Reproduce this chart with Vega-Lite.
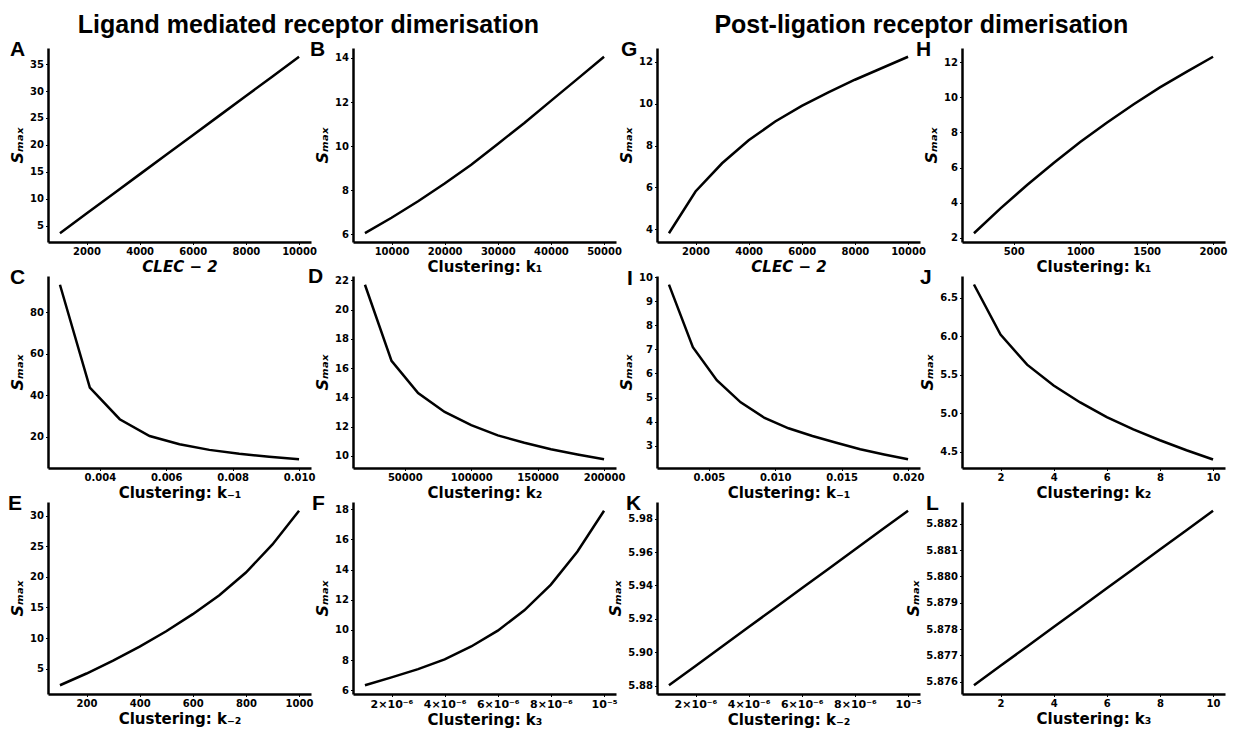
{
"$schema": "https://vega.github.io/schema/vega-lite/v6.json",
"padding": {"left": 8, "top": 13, "right": 5, "bottom": 5},
"background": "white",
"config": {
 "view": {"stroke": null},
 "font": "DejaVu Sans",
 "axis": {"domainColor": "black", "domainWidth": 2.5, "tickColor": "black", "tickWidth": 1, "tickSize": 2.5, "grid": false, "labelFont": "DejaVu Sans", "labelFontWeight": "bold", "labelFontSize": 10, "labelColor": "black", "labelPadding": 2, "titleFont": "DejaVu Sans", "titleFontWeight": "bold", "titleFontSize": 15, "titleColor": "black"},
 "axisY": {"titlePadding": 4, "titleFontStyle": "italic", "titleFontSize": 16},
 "axisX": {"titlePadding": 3},
 "title": {"font": "Liberation Sans", "fontWeight": "bold", "fontSize": 21, "color": "black", "anchor": "start", "frame": "group", "baseline": "alphabetic", "offset": -12},
 "line": {"color": "black", "strokeWidth": 2.5}
},
"datasets": {
 "A": [{"x":1000,"y":3.58},{"x":2000,"y":7.22},{"x":3000,"y":10.86},{"x":4000,"y":14.51},{"x":5000,"y":18.15},{"x":6000,"y":21.79},{"x":7000,"y":25.43},{"x":8000,"y":29.07},{"x":9000,"y":32.72},{"x":10000,"y":36.36}],
 "B": [{"x":5000,"y":6.05},{"x":10000,"y":6.75},{"x":15000,"y":7.5},{"x":20000,"y":8.3},{"x":25000,"y":9.15},{"x":30000,"y":10.1},{"x":35000,"y":11.05},{"x":40000,"y":12.05},{"x":45000,"y":13.05},{"x":50000,"y":14.05}],
 "C": [{"x":0.0028,"y":93.3},{"x":0.0037,"y":43.7},{"x":0.0046,"y":28.4},{"x":0.0055,"y":20.3},{"x":0.0064,"y":16.3},{"x":0.0073,"y":13.6},{"x":0.0082,"y":11.7},{"x":0.0091,"y":10.25},{"x":0.01,"y":9.07}],
 "D": [{"x":20000,"y":21.7},{"x":40000,"y":16.5},{"x":60000,"y":14.3},{"x":80000,"y":13.0},{"x":100000,"y":12.1},{"x":120000,"y":11.4},{"x":140000,"y":10.9},{"x":160000,"y":10.45},{"x":180000,"y":10.1},{"x":200000,"y":9.77}],
 "E": [{"x":100,"y":2.28},{"x":200,"y":4.2},{"x":300,"y":6.3},{"x":400,"y":8.6},{"x":500,"y":11.1},{"x":600,"y":13.9},{"x":700,"y":17.0},{"x":800,"y":20.7},{"x":900,"y":25.3},{"x":1000,"y":30.8}],
 "F": [{"x":0.000001,"y":6.33},{"x":0.000002,"y":6.85},{"x":0.000003,"y":7.4},{"x":0.000004,"y":8.05},{"x":0.000005,"y":8.9},{"x":0.000006,"y":9.95},{"x":0.000007,"y":11.3},{"x":0.000008,"y":13.0},{"x":0.000009,"y":15.2},{"x":0.00001,"y":17.9}],
 "G": [{"x":1000,"y":3.8},{"x":2000,"y":5.8},{"x":3000,"y":7.15},{"x":4000,"y":8.25},{"x":5000,"y":9.15},{"x":6000,"y":9.9},{"x":7000,"y":10.55},{"x":8000,"y":11.15},{"x":9000,"y":11.7},{"x":10000,"y":12.25}],
 "H": [{"x":200,"y":2.25},{"x":400,"y":3.67},{"x":600,"y":5.0},{"x":800,"y":6.26},{"x":1000,"y":7.45},{"x":1200,"y":8.56},{"x":1400,"y":9.6},{"x":1600,"y":10.57},{"x":1800,"y":11.46},{"x":2000,"y":12.32}],
 "I": [{"x":0.002,"y":9.69},{"x":0.0038,"y":7.09},{"x":0.0056,"y":5.72},{"x":0.0074,"y":4.8},{"x":0.0092,"y":4.15},{"x":0.011,"y":3.72},{"x":0.0128,"y":3.4},{"x":0.0146,"y":3.12},{"x":0.0164,"y":2.85},{"x":0.0182,"y":2.63},{"x":0.02,"y":2.43}],
 "J": [{"x":1,"y":6.67},{"x":2,"y":6.02},{"x":3,"y":5.63},{"x":4,"y":5.36},{"x":5,"y":5.14},{"x":6,"y":4.95},{"x":7,"y":4.79},{"x":8,"y":4.65},{"x":9,"y":4.52},{"x":10,"y":4.4}],
 "K": [{"x":0.000001,"y":5.8802},{"x":0.000002,"y":5.8918},{"x":0.000003,"y":5.9034},{"x":0.000004,"y":5.9151},{"x":0.000005,"y":5.9267},{"x":0.000006,"y":5.9383},{"x":0.000007,"y":5.9499},{"x":0.000008,"y":5.9616},{"x":0.000009,"y":5.9732},{"x":0.00001,"y":5.9848}],
 "L": [{"x":1,"y":5.87587},{"x":2,"y":5.87661},{"x":3,"y":5.87734},{"x":4,"y":5.87808},{"x":5,"y":5.87881},{"x":6,"y":5.87955},{"x":7,"y":5.88028},{"x":8,"y":5.88102},{"x":9,"y":5.88175},{"x":10,"y":5.88249}]
},
"hconcat": [
 {
  "title": {"text": "Ligand mediated receptor dimerisation", "anchor": "middle", "frame": "bounds", "font": "Liberation Sans", "fontWeight": "bold", "fontSize": 25, "baseline": "alphabetic", "offset": -19, "dx": -8},
  "columns": 2,
  "spacing": {"row": 34, "column": 42},
  "bounds": "flush",
  "concat": [
   {"title": {"text": "A", "dx": -38}, "width": 263, "height": 194, "data": {"name": "A"}, "mark": {"type": "line"},
    "encoding": {"x": {"field": "x", "type": "quantitative", "scale": {"domain": [550, 10450], "nice": false, "zero": false}, "axis": {"title": "CLEC − 2", "titleFontStyle": "italic", "values": [2000, 4000, 6000, 8000, 10000], "format": "d"}},
                 "y": {"field": "y", "type": "quantitative", "scale": {"domain": [1.94, 38.0], "nice": false, "zero": false}, "axis": {"title": "Sₘₐₓ", "values": [5, 10, 15, 20, 25, 30, 35], "format": "d"}}}},
   {"title": {"text": "B", "dx": -43}, "width": 263, "height": 194, "data": {"name": "B"}, "mark": {"type": "line"},
    "encoding": {"x": {"field": "x", "type": "quantitative", "scale": {"domain": [2750, 52250], "nice": false, "zero": false}, "axis": {"title": "Clustering: k₁", "values": [10000, 20000, 30000, 40000, 50000], "format": "d"}},
                 "y": {"field": "y", "type": "quantitative", "scale": {"domain": [5.65, 14.45], "nice": false, "zero": false}, "axis": {"title": "Sₘₐₓ", "values": [6, 8, 10, 12, 14], "format": "d"}}}},
   {"title": {"text": "C", "dx": -38}, "width": 263, "height": 192, "data": {"name": "C"}, "mark": {"type": "line"},
    "encoding": {"x": {"field": "x", "type": "quantitative", "scale": {"domain": [0.00244, 0.01036], "nice": false, "zero": false}, "axis": {"title": "Clustering: k₋₁", "values": [0.004, 0.006, 0.008, 0.01], "format": ".3f"}},
                 "y": {"field": "y", "type": "quantitative", "scale": {"domain": [4.86, 97.51], "nice": false, "zero": false}, "axis": {"title": "Sₘₐₓ", "values": [20, 40, 60, 80], "format": "d"}}}},
   {"title": {"text": "D", "dx": -45}, "width": 263, "height": 192, "data": {"name": "D"}, "mark": {"type": "line"},
    "encoding": {"x": {"field": "x", "type": "quantitative", "scale": {"domain": [11000, 209000], "nice": false, "zero": false}, "axis": {"title": "Clustering: k₂", "values": [50000, 100000, 150000, 200000], "format": "d"}},
                 "y": {"field": "y", "type": "quantitative", "scale": {"domain": [9.17, 22.3], "nice": false, "zero": false}, "axis": {"title": "Sₘₐₓ", "values": [10, 12, 14, 16, 18, 20, 22], "format": "d"}}}},
   {"title": {"text": "E", "dx": -40}, "width": 263, "height": 192, "data": {"name": "E"}, "mark": {"type": "line"},
    "encoding": {"x": {"field": "x", "type": "quantitative", "scale": {"domain": [55, 1045], "nice": false, "zero": false}, "axis": {"title": "Clustering: k₋₂", "values": [200, 400, 600, 800, 1000], "format": "d"}},
                 "y": {"field": "y", "type": "quantitative", "scale": {"domain": [0.85, 32.23], "nice": false, "zero": false}, "axis": {"title": "Sₘₐₓ", "values": [5, 10, 15, 20, 25, 30], "format": "d"}}}},
   {"title": {"text": "F", "dx": -41}, "width": 263, "height": 192, "data": {"name": "F"}, "mark": {"type": "line"},
    "encoding": {"x": {"field": "x", "type": "quantitative", "scale": {"domain": [0.00000055, 0.00001045], "nice": false, "zero": false}, "axis": {"title": "Clustering: k₃", "labelFontSize": 11, "values": [0.000002, 0.000004, 0.000006, 0.000008, 0.00001], "labelExpr": "datum.value > 0.000009 ? '10⁻⁵' : round(datum.value * 1000000) + '×10⁻⁶'"}},
                 "y": {"field": "y", "type": "quantitative", "scale": {"domain": [5.75, 18.48], "nice": false, "zero": false}, "axis": {"title": "Sₘₐₓ", "values": [6, 8, 10, 12, 14, 16, 18], "format": "d"}}}}
  ]
 },
 {
  "title": {"text": "Post-ligation receptor dimerisation", "anchor": "middle", "frame": "bounds", "font": "Liberation Sans", "fontWeight": "bold", "fontSize": 25, "baseline": "alphabetic", "offset": -19, "dx": 4},
  "columns": 2,
  "spacing": {"row": 34, "column": 42},
  "bounds": "flush",
  "concat": [
   {"title": {"text": "G", "dx": -36}, "width": 263, "height": 194, "data": {"name": "G"}, "mark": {"type": "line"},
    "encoding": {"x": {"field": "x", "type": "quantitative", "scale": {"domain": [550, 10450], "nice": false, "zero": false}, "axis": {"title": "CLEC − 2", "titleFontStyle": "italic", "values": [2000, 4000, 6000, 8000, 10000], "format": "d"}},
                 "y": {"field": "y", "type": "quantitative", "scale": {"domain": [3.38, 12.67], "nice": false, "zero": false}, "axis": {"title": "Sₘₐₓ", "values": [4, 6, 8, 10, 12], "format": "d"}}}},
   {"title": {"text": "H", "dx": -46}, "width": 263, "height": 194, "data": {"name": "H"}, "mark": {"type": "line"},
    "encoding": {"x": {"field": "x", "type": "quantitative", "scale": {"domain": [110, 2090], "nice": false, "zero": false}, "axis": {"title": "Clustering: k₁", "values": [500, 1000, 1500, 2000], "format": "d"}},
                 "y": {"field": "y", "type": "quantitative", "scale": {"domain": [1.75, 12.82], "nice": false, "zero": false}, "axis": {"title": "Sₘₐₓ", "values": [2, 4, 6, 8, 10, 12], "format": "d"}}}},
   {"title": {"text": "I", "dx": -30, "dy": 5}, "width": 263, "height": 192, "data": {"name": "I"}, "mark": {"type": "line"},
    "encoding": {"x": {"field": "x", "type": "quantitative", "scale": {"domain": [0.0011, 0.0209], "nice": false, "zero": false}, "axis": {"title": "Clustering: k₋₁", "values": [0.005, 0.01, 0.015, 0.02], "format": ".3f"}},
                 "y": {"field": "y", "type": "quantitative", "scale": {"domain": [2.07, 10.05], "nice": false, "zero": false}, "axis": {"title": "Sₘₐₓ", "values": [3, 4, 5, 6, 7, 8, 9, 10], "format": "d"}}}},
   {"title": {"text": "J", "dx": -42}, "width": 263, "height": 192, "data": {"name": "J"}, "mark": {"type": "line"},
    "encoding": {"x": {"field": "x", "type": "quantitative", "scale": {"domain": [0.55, 10.45], "nice": false, "zero": false}, "axis": {"title": "Clustering: k₂", "values": [2, 4, 6, 8, 10], "format": "d"}},
                 "y": {"field": "y", "type": "quantitative", "scale": {"domain": [4.29, 6.78], "nice": false, "zero": false}, "axis": {"title": "Sₘₐₓ", "values": [4.5, 5.0, 5.5, 6.0, 6.5], "format": ".1f"}}}},
   {"title": {"text": "K", "dx": -31}, "width": 263, "height": 192, "data": {"name": "K"}, "mark": {"type": "line"},
    "encoding": {"x": {"field": "x", "type": "quantitative", "scale": {"domain": [0.00000055, 0.00001045], "nice": false, "zero": false}, "axis": {"title": "Clustering: k₋₂", "labelFontSize": 11, "values": [0.000002, 0.000004, 0.000006, 0.000008, 0.00001], "labelExpr": "datum.value > 0.000009 ? '10⁻⁵' : round(datum.value * 1000000) + '×10⁻⁶'"}},
                 "y": {"field": "y", "type": "quantitative", "scale": {"domain": [5.875, 5.99], "nice": false, "zero": false}, "axis": {"title": "Sₘₐₓ", "values": [5.88, 5.9, 5.92, 5.94, 5.96, 5.98], "format": ".2f"}}}},
   {"title": {"text": "L", "dx": -36}, "width": 263, "height": 192, "data": {"name": "L"}, "mark": {"type": "line"},
    "encoding": {"x": {"field": "x", "type": "quantitative", "scale": {"domain": [0.55, 10.45], "nice": false, "zero": false}, "axis": {"title": "Clustering: k₃", "values": [2, 4, 6, 8, 10], "format": "d"}},
                 "y": {"field": "y", "type": "quantitative", "scale": {"domain": [5.87554, 5.88282], "nice": false, "zero": false}, "axis": {"title": "Sₘₐₓ", "values": [5.876, 5.877, 5.878, 5.879, 5.88, 5.881, 5.882], "format": ".3f"}}}}
  ]
 }
],
"spacing": -18
}
